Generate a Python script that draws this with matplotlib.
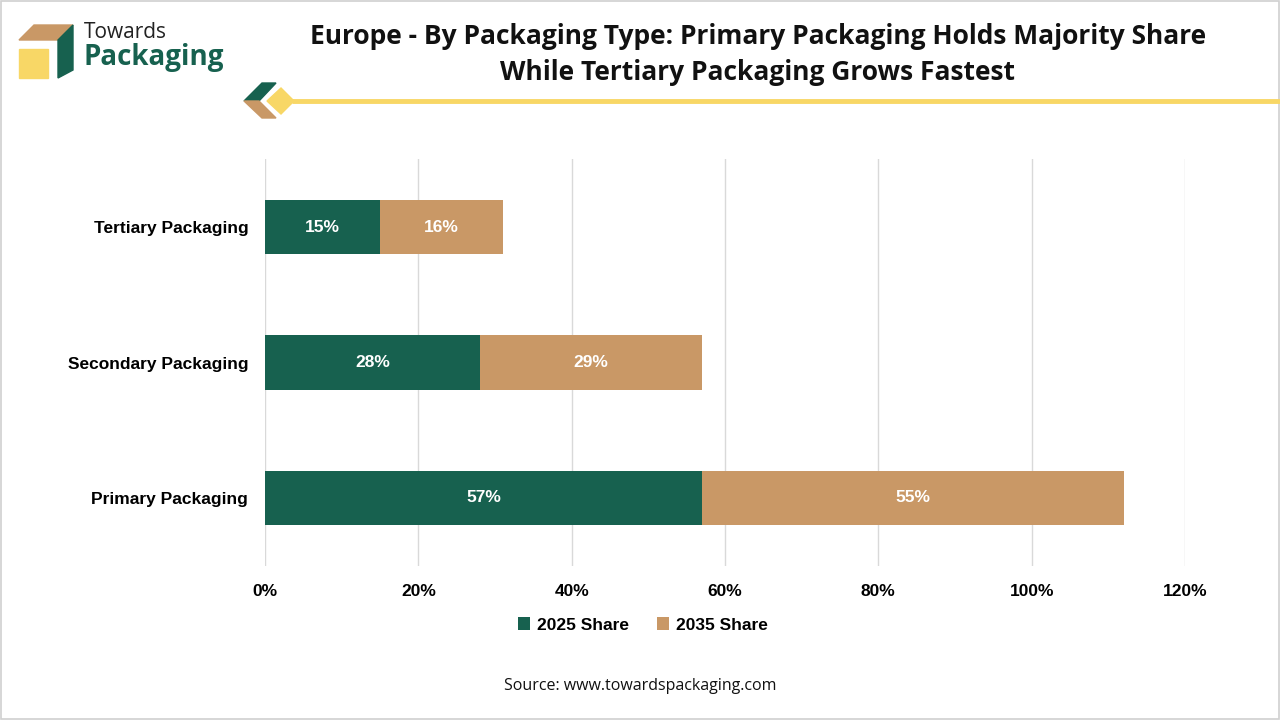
import matplotlib
matplotlib.use("Agg")
import matplotlib.pyplot as plt
from matplotlib.patches import Polygon, Rectangle
from matplotlib.lines import Line2D

categories = ["Primary Packaging", "Secondary Packaging", "Tertiary Packaging"]
share_2025 = [57, 28, 15]
share_2035 = [55, 29, 16]
series_names = ["2025 Share", "2035 Share"]
xticks = [0, 20, 40, 60, 80, 100, 120]

GREEN = "#17614F"
TAN = "#C99866"
YELLOW = "#F8D766"

fig = plt.figure(figsize=(12.8, 7.2), dpi=100)
fig.patch.set_facecolor("white")

# border
fig.add_artist(Rectangle((0.001, 0.001), 0.998, 0.997, transform=fig.transFigure,
                         fill=False, edgecolor="#D0D0D0", linewidth=1.2))

ax = fig.add_axes([265/1280, 1 - 565.75/720, 920/1280, 406.5/720])
y = list(range(len(categories)))
b1 = ax.barh(y, share_2025, height=0.4, color=GREEN, label=series_names[0], zorder=3)
b2 = ax.barh(y, share_2035, left=share_2025, height=0.4, color=TAN, label=series_names[1], zorder=3)
for bars in (b1, b2):
    ax.bar_label(bars, labels=[f"{v}%" for v in bars.datavalues], label_type="center",
                 color="white", fontsize=12.5, fontweight="bold", family="Liberation Sans")

ax.set_xlim(0, 120)
ax.set_ylim(-0.5, len(categories) - 0.5)
ax.set_xticks(xticks)
ax.set_xticklabels([f"{t}%" for t in xticks], fontsize=12.5, fontweight="bold", family="Liberation Sans")
ax.set_yticks(y)
ax.set_yticklabels(categories, fontsize=12.5, fontweight="bold", family="Liberation Sans")
ax.tick_params(axis="x", length=0, pad=13)
ax.tick_params(axis="y", length=0, pad=12)
ax.grid(axis="x", color="#D9D9D9", linewidth=1, zorder=0)
for s in ax.spines.values():
    s.set_visible(False)

leg = fig.legend(handles=[b1, b2], labels=series_names, loc="center", bbox_to_anchor=(643/1280, 1 - 625/720),
                 ncol=2, frameon=False, handlelength=0.7, handleheight=0.7, handletextpad=0.4,
                 columnspacing=1.6, prop={"family": "Liberation Sans", "weight": "bold", "size": 12.5})

# title
fig.text(758/1280, 1 - 37/720, "Europe - By Packaging Type: Primary Packaging Holds Majority Share",
         ha="center", va="center", fontsize=19, fontweight="bold", family="Open Sans", color="#111111")
fig.text(758/1280, 1 - 72/720, "While Tertiary Packaging Grows Fastest",
         ha="center", va="center", fontsize=19, fontweight="bold", family="Open Sans", color="#111111")

# source
fig.text(640/1280, 1 - 686/720, "Source: www.towardspackaging.com", ha="center", va="center",
         fontsize=11.5, family="Open Sans", color="#111111")

# decorative line
fig.add_artist(Line2D([292/1280, 1.0], [1 - 101/720, 1 - 101/720], transform=fig.transFigure,
                      color=YELLOW, linewidth=3.5, solid_capstyle="butt"))

def px(pts):
    return [(x/1280, 1 - yy/720) for x, yy in pts]

# chevron decoration
fig.add_artist(Polygon(px([(244, 101), (262, 83), (276, 83), (259, 101)]), closed=True,
                       transform=fig.transFigure, color=GREEN))
fig.add_artist(Polygon(px([(244, 101), (259, 101), (276, 118), (262, 118)]), closed=True,
                       transform=fig.transFigure, color=TAN))
fig.add_artist(Polygon(px([(267, 101), (281, 88), (294, 101), (281, 114)]), closed=True,
                       transform=fig.transFigure, color=YELLOW))

# logo
fig.add_artist(Polygon(px([(19, 40), (34, 25), (73, 25), (58, 40)]), closed=True,
                       transform=fig.transFigure, color=TAN))
fig.add_artist(Polygon(px([(58, 40), (73, 25), (73, 70), (58, 78)]), closed=True,
                       transform=fig.transFigure, color=GREEN))
fig.add_artist(Polygon(px([(19, 49), (48, 49), (48, 78), (19, 78)]), closed=True,
                       transform=fig.transFigure, color=YELLOW))
fig.text(84/1280, 1 - 32/720, "Towards", ha="left", va="center", fontsize=15,
         family="Open Sans", color="#222222")
fig.text(84/1280, 1 - 58/720, "Packaging", ha="left", va="center", fontsize=20, fontweight="bold",
         family="Open Sans", color=GREEN)

fig.savefig("out.png", dpi=100, facecolor="white")
